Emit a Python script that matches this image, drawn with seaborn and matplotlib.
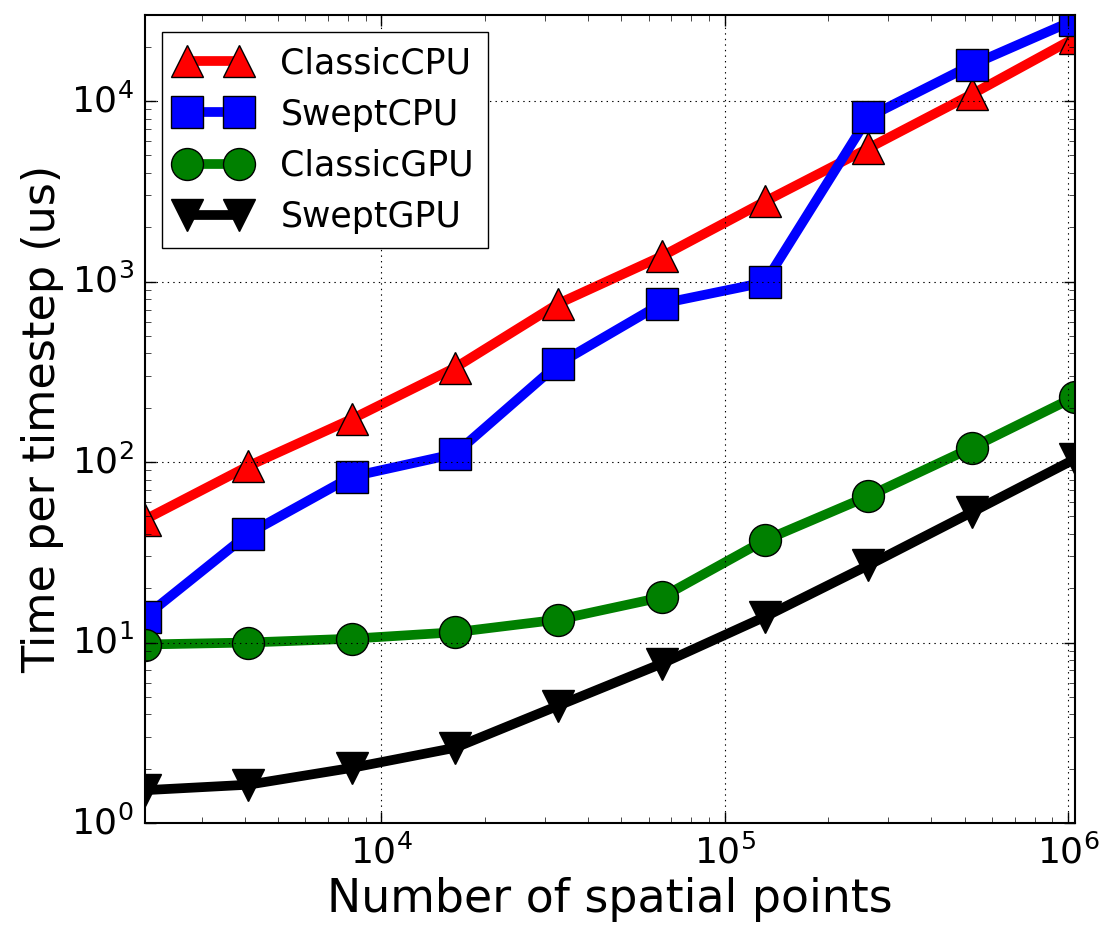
import matplotlib
matplotlib.use("Agg")
import matplotlib.pyplot as plt
import pandas as pd
import seaborn as sns

plt.style.use('classic')

# ── Data ──────────────────────────────────────────────────────────────────────
n_points = [2048, 4096, 8192, 16384, 32768, 65536, 131072, 262144, 524288, 1048576]

classic_cpu = [48, 95, 173, 333, 755, 1380, 2780, 5480, 10900, 22400]
swept_cpu   = [13.9, 40, 83, 111, 350, 755, 990, 8150, 15850, 28200]
classic_gpu = [9.75, 10.0, 10.5, 11.4, 13.4, 17.8, 36.9, 64.7, 120, 230]
swept_gpu   = [1.52, 1.63, 2.02, 2.61, 4.47, 7.64, 13.9, 26.8, 52.7, 104]

series = [
    ("ClassicCPU", classic_cpu, "red",   "^"),
    ("SweptCPU",   swept_cpu,   "blue",  "s"),
    ("ClassicGPU", classic_gpu, "green", "o"),
    ("SweptGPU",   swept_gpu,   "black", "v"),
]

plt.rcParams['figure.facecolor'] = 'white'
plt.rcParams['savefig.facecolor'] = 'white'
plt.rcParams['font.family'] = ['DejaVu Sans']
plt.rcParams['mathtext.fontset'] = 'dejavusans'

fig = plt.figure(figsize=(11.17, 9.43), dpi=100)
ax = fig.add_axes([145 / 1117, 120 / 943, 930 / 1117, 808 / 943])
ax.set_xscale('log')
ax.set_yscale('log')

for name, vals, col, mk in series:
    df = pd.DataFrame({"n": n_points, "t": vals})
    sns.lineplot(data=df, x="n", y="t", ax=ax, color=col, marker=mk,
                 markersize=23, markeredgecolor="black", markeredgewidth=1,
                 linewidth=7, label=name, legend=False)

ax.set_xlim(2048, 1048576)
ax.set_ylim(1, 3e4)
ax.grid(True, which='major', color='black', linestyle=':', linewidth=0.8)

ax.set_xlabel('Number of spatial points', fontsize=33)
ax.set_ylabel('Time per timestep (us)', fontsize=32)
ax.tick_params(axis='both', which='major', labelsize=26, direction='in',
               length=8, width=1, pad=8, top=True, right=True)
ax.tick_params(axis='both', which='minor', direction='in', length=4,
               top=True, right=True)
for sp in ax.spines.values():
    sp.set_linewidth(1.5)

ax.legend(loc='upper left', fontsize=25, numpoints=2, handlelength=2.1,
          handletextpad=0.9, labelspacing=0.5, borderaxespad=0.5,
          fancybox=False, frameon=True)

fig.savefig('out.png', dpi=100)
